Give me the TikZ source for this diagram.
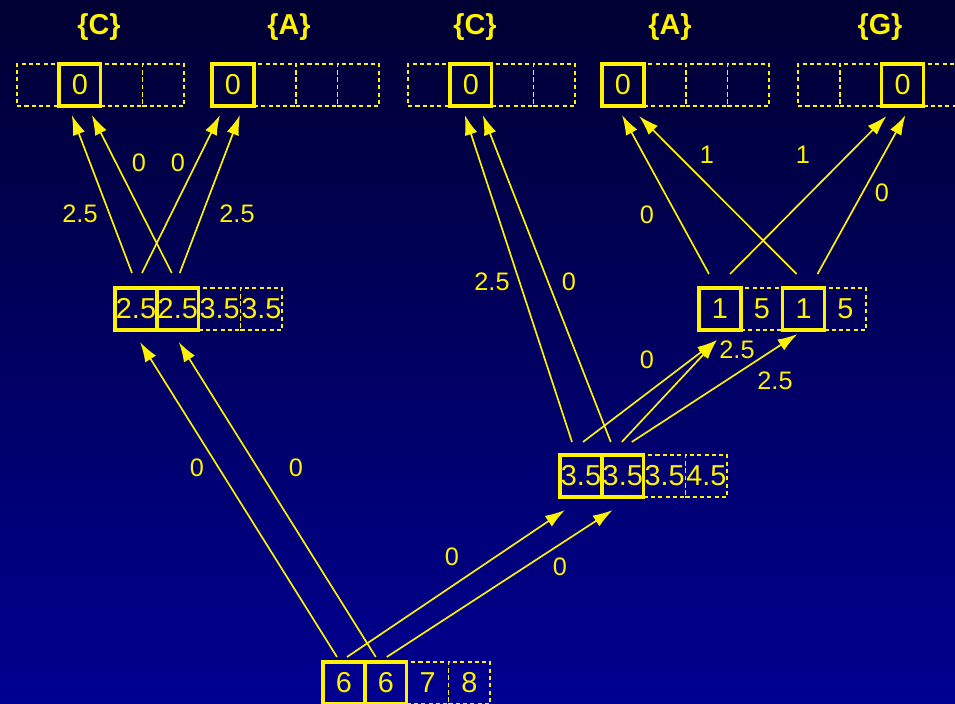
\documentclass[tikz,border=0pt]{standalone}
\usepackage{fontspec}
\setmainfont{Liberation Sans}
\usetikzlibrary{arrows.meta, calc}
\definecolor{bgtop}{RGB}{0,0,50}
\definecolor{bgbot}{RGB}{0,0,145}

\begin{document}
\begin{tikzpicture}[x=0.025cm, y=0.025cm, node distance=1.044cm, yellow,
    solid cell/.style={rectangle, draw, line width=2.5pt, minimum width=1.044cm, minimum height=1.05cm, inner sep=0pt, outer sep=0pt, font=\fontsize{20.5}{24}\selectfont},
    dash cell/.style={solid cell, line width=1.2pt, dash pattern=on 2.9pt off 2.3pt},
    set label/.style={font=\bfseries\fontsize{20.5}{24}\selectfont},
    weight/.style={font=\fontsize{18}{21}\selectfont},
    edge/.style={line width=1.2pt, -{Latex[length=0.5cm, width=0.32cm]}}]
\useasboundingbox (0,0) rectangle (955,704);
\shade[top color=bgtop, bottom color=bgbot] (0,0) rectangle (955,704);
% leaves
\node[dash cell] (L1-1) at (38,619) {};
\foreach \s/\t/\v/\st in {L1-2/L1-1/0/solid cell, L1-3/L1-2//dash cell, L1-4/L1-3//dash cell}{
    \node[\st] (\s) [right of = \t] {\v};}
\node[solid cell] (L2-1) at (233,619) {0};
\foreach \s/\t in {L2-2/L2-1, L2-3/L2-2, L2-4/L2-3}{
    \node[dash cell] (\s) [right of = \t] {};}
\node[dash cell] (L3-1) at (429,619) {};
\foreach \s/\t/\v/\st in {L3-2/L3-1/0/solid cell, L3-3/L3-2//dash cell, L3-4/L3-3//dash cell}{
    \node[\st] (\s) [right of = \t] {\v};}
\node[solid cell] (L4-1) at (623,619) {0};
\foreach \s/\t in {L4-2/L4-1, L4-3/L4-2, L4-4/L4-3}{
    \node[dash cell] (\s) [right of = \t] {};}
\node[dash cell] (L5-1) at (819,619) {};
\foreach \s/\t/\v/\st in {L5-2/L5-1//dash cell, L5-3/L5-2/0/solid cell, L5-4/L5-3//dash cell}{
    \node[\st] (\s) [right of = \t] {\v};}
\foreach \n/\x/\v in {sc1/99/C, sa1/289/A, sc2/475/C, sa2/670/A, sg/880/G}{
    \node[set label] (\n) at (\x,677) {\{\v\}};}
% inner nodes
\node[solid cell] (N1-1) at (136,395) {2.5};
\foreach \s/\t/\v/\st in {N1-2/N1-1/2.5/solid cell, N1-3/N1-2/3.5/dash cell, N1-4/N1-3/3.5/dash cell}{
    \node[\st] (\s) [right of = \t] {\v};}
\node[solid cell] (N2-1) at (720,395) {1};
\foreach \s/\t/\v/\st in {N2-2/N2-1/5/dash cell, N2-3/N2-2/1/solid cell, N2-4/N2-3/5/dash cell}{
    \node[\st] (\s) [right of = \t] {\v};}
\node[solid cell] (N3-1) at (581,228) {3.5};
\foreach \s/\t/\v/\st in {N3-2/N3-1/3.5/solid cell, N3-3/N3-2/3.5/dash cell, N3-4/N3-3/4.5/dash cell}{
    \node[\st] (\s) [right of = \t] {\v};}
\node[solid cell] (R-1) at (344,21) {6};
\foreach \s/\t/\v/\st in {R-2/R-1/6/solid cell, R-3/R-2/7/dash cell, R-4/R-3/8/dash cell}{
    \node[\st] (\s) [right of = \t] {\v};}
% arrows
\foreach \s/\sx/\sy/\t/\tx/\ty in {R-1/-7/5/N1-1/4/-12, R-2/-10/5/N1-2/1/-12,
    R-1/3/5/N3-1/-16/-13, R-2/1/5/N3-2/-10/-13,
    N3-1/-9/13/L3-2/-6/-9, N3-2/-12/13/L3-2/12/-9,
    N3-1/2/13/N2-1/-3/-10, N3-2/-1/13/N2-1/-3/-10, N3-2/9/13/N2-3/-6/-4,
    N1-1/-4/15/L1-2/-8/-9, N1-1/6/15/L2-1/-13/-9, N1-2/-6/15/L1-2/12/-9, N1-2/2/15/L2-1/7/-9,
    N2-1/-11/14/L4-1/-1/-9, N2-1/10/14/L5-3/-16/-10, N2-3/-7/14/L4-1/16/-10, N2-3/14/14/L5-3/3/-9}{
    \draw[edge] ($(\s.north)+(\sx,\sy)$) -- ($(\t.south)+(\tx,\ty)$);}
% weights
\foreach \n/\x/\y/\w in {w1/197/236/0, w2/296/236/0, w3/452/147/0, w4/560/137/0,
    w5/492/422/2.5, w6/569/422/0, w7/647/344/0, w8/737/354/2.5, w9/775/323/2.5,
    w10/80/490/2.5, w11/178/541/0, w12/139/541/0, w13/237/490/2.5,
    w14/647/489/0, w15/803/549/1, w16/707/549/1, w17/882/511/0}{
    \node[weight] (\n) at (\x,\y) {\w};}
\end{tikzpicture}
\end{document}
